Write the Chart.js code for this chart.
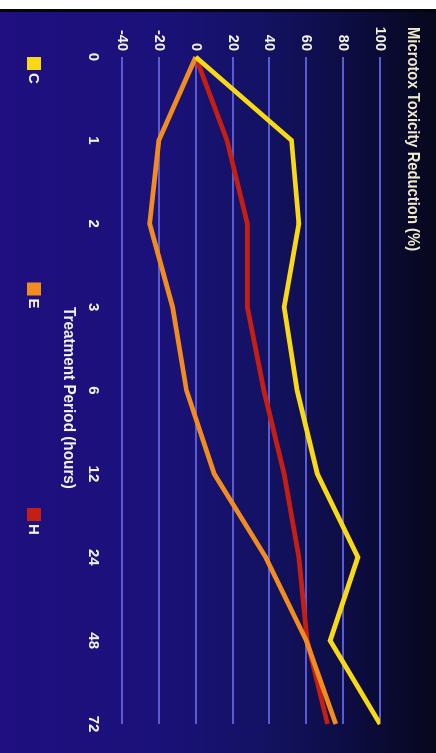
<!DOCTYPE html>
<html>
<head>
<meta charset="utf-8">
<script src="https://cdn.jsdelivr.net/npm/chart.js@4/dist/chart.umd.min.js"></script>
<style>
  html, body { margin: 0; padding: 0; background: #ffffff; width: 436px; height: 753px; overflow: hidden; }
  #frame { position: absolute; top: 9px; left: 0; width: 436px; height: 744px; background: #050510; }
  #holder { position: absolute; top: 3px; left: 0; width: 436px; height: 741px; overflow: hidden; }
  /* the slide is laid out landscape, then turned a quarter clockwise */
  #chart { position: absolute; top: 0; left: 0; transform-origin: 0 0; transform: translate(436px, 0) rotate(90deg); }
</style>
</head>
<body>
<div id="frame"><div id="holder"><canvas id="chart" width="741" height="436"></canvas></div></div>
<script>
// Treatment period categories (hours)
const hours = ['0', '1', '2', '3', '6', '12', '24', '48', '72'];
// Microtox toxicity reduction (%) per treatment
const seriesC = [0, 52, 56, 48, 55, 66, 88, 73, 100];
const seriesE = [0, -20, -25, -12.5, -5, 10, 38, 60, 76];
const seriesH = [0, 17, 28, 28, 37, 48, 56, 60.5, 71.5];
const seriesNames = ['C', 'E', 'H'];
const seriesColors = ['#f7d916', '#f28c1e', '#c41f12'];
// value axis ticks
const valueTicks = [-40, -20, 0, 20, 40, 60, 80, 100];

const FONT = '"Liberation Sans", Arial, sans-serif';
const TEXT = '#f3f1e6';

const backdrop = {
  id: 'backdrop',
  beforeDraw(chart) {
    const { ctx, width, height } = chart;
    const g = ctx.createLinearGradient(0, height, 0, 0);
    g.addColorStop(0, '#1f0f80');
    g.addColorStop(0.35, '#1b117a');
    g.addColorStop(0.6, '#131263');
    g.addColorStop(0.82, '#0c0c40');
    g.addColorStop(1, '#07071c');
    ctx.save();
    ctx.fillStyle = g;
    ctx.fillRect(0, 0, width, height);
    ctx.restore();
  }
};

// text squeezed horizontally to mimic a condensed face
function condensedText(ctx, text, x, y, squeeze) {
  ctx.save();
  ctx.translate(x, y);
  ctx.scale(squeeze, 1);
  ctx.fillText(text, 0, 0);
  ctx.restore();
}

const annotations = {
  id: 'annotations',
  afterDraw(chart) {
    const { ctx, chartArea } = chart;
    ctx.save();
    ctx.fillStyle = '#efeacb';
    ctx.textBaseline = 'middle';
    ctx.textAlign = 'left';
    ctx.font = 'bold 17px ' + FONT;
    condensedText(ctx, 'Microtox Toxicity Reduction (%)', 15, 23, 0.87);

    ctx.fillStyle = TEXT;
    ctx.textAlign = 'center';
    ctx.font = 'bold 17px ' + FONT;
    condensedText(ctx, 'Treatment Period (hours)', 386, 367, 0.9);

    // legend row
    const step = 225.5;
    ctx.textAlign = 'left';
    ctx.font = 'bold 15px ' + FONT;
    chart.data.datasets.forEach((ds, i) => {
      const x = chartArea.left + i * step;
      ctx.fillStyle = ds.borderColor;
      ctx.fillRect(x, 395, 13, 14);
      ctx.fillStyle = TEXT;
      ctx.fillText(ds.label, x + 16, 403);
    });
    ctx.restore();
  }
};

const datasets = [seriesC, seriesE, seriesH].map((vals, i) => ({
  label: seriesNames[i],
  data: vals,
  borderColor: seriesColors[i],
  backgroundColor: seriesColors[i],
  borderWidth: 4.8,
  borderJoinStyle: 'miter',
  borderCapStyle: 'butt',
  pointRadius: 0,
  tension: 0,
  fill: false
}));

new Chart(document.getElementById('chart'), {
  type: 'line',
  data: { labels: hours, datasets },
  options: {
    responsive: false,
    animation: false,
    devicePixelRatio: 1,
    layout: { padding: { top: 56, right: 29, left: 0, bottom: 0 } },
    plugins: { legend: { display: false }, tooltip: { enabled: false } },
    scales: {
      x: {
        offset: false,
        grid: { display: false },
        border: { display: false },
        ticks: { color: TEXT, padding: 12, maxRotation: 0, font: { family: FONT, size: 15, weight: 'bold' } },
        afterFit(s) { s.height = 122; }
      },
      y: {
        min: -40,
        max: 100,
        afterBuildTicks(s) { s.ticks = valueTicks.map(v => ({ value: v })); },
        grid: { color: '#5b5bd6', lineWidth: 2, drawTicks: false },
        border: { display: false },
        ticks: { color: TEXT, padding: 6, font: { family: FONT, size: 14.5, weight: 'bold' } },
        afterFit(s) { s.width = 45; }
      }
    }
  },
  plugins: [backdrop, annotations]
});
</script>
</body>
</html>
